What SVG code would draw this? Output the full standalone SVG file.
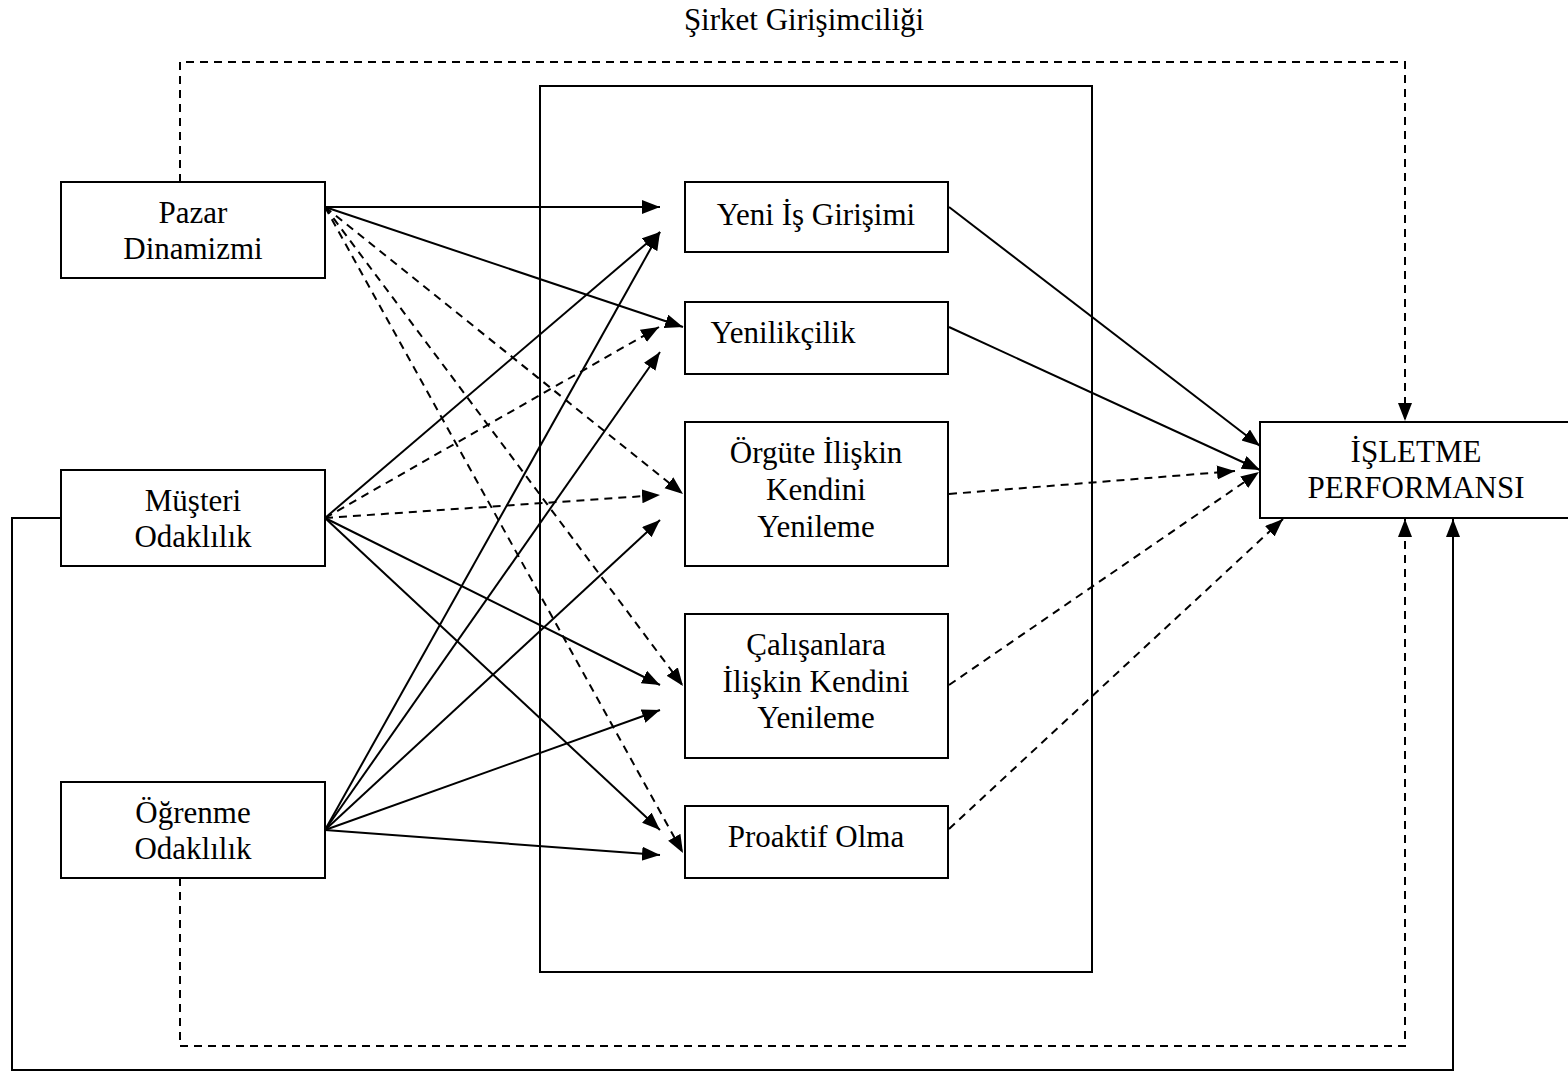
<svg xmlns="http://www.w3.org/2000/svg" width="1568" height="1071" viewBox="0 0 1568 1071">
<style>
.box{fill:#fff;stroke:#000;stroke-width:2}
.frame{fill:none;stroke:#000;stroke-width:2}
.t{font-family:'Liberation Serif','DejaVu Serif',serif;font-size:31px;fill:#000;text-anchor:middle}
.s{fill:none;stroke:#000;stroke-width:2}
.d{fill:none;stroke:#000;stroke-width:2;stroke-dasharray:8 6}
</style>
<defs>
<marker id="ah" markerUnits="userSpaceOnUse" markerWidth="19" markerHeight="15" refX="18" refY="7" orient="auto">
<path d="M0,0 L18,7 L0,14 z" fill="#000"/>
</marker>
</defs>
<rect width="1568" height="1071" fill="#fff"/>
<text class="t" x="804" y="30" font-family="Liberation Serif, DejaVu Serif, serif">Şirket Girişimciliği</text>
<g id="frame"><rect class="frame" x="540" y="86" width="552" height="886"/></g>
<g id="connectors">
<path class="d" d="M180,182 V62 H1405 V421" marker-end="url(#ah)"/>
<path class="d" d="M180,878 V1046 H1405 V519" marker-end="url(#ah)"/>
<path class="s" d="M61,518 H12 V1070 H1453 V519" marker-end="url(#ah)"/>
<line class="s" x1="325" y1="207" x2="660" y2="207" marker-end="url(#ah)"/>
<line class="s" x1="325" y1="207" x2="683" y2="327" marker-end="url(#ah)"/>
<line class="d" x1="325" y1="207" x2="683" y2="494" marker-end="url(#ah)"/>
<line class="d" x1="325" y1="207" x2="683" y2="686" marker-end="url(#ah)"/>
<line class="d" x1="325" y1="207" x2="683" y2="853" marker-end="url(#ah)"/>
<line class="s" x1="325" y1="518" x2="660" y2="232" marker-end="url(#ah)"/>
<line class="d" x1="325" y1="518" x2="659" y2="327" marker-end="url(#ah)"/>
<line class="d" x1="325" y1="518" x2="660" y2="495" marker-end="url(#ah)"/>
<line class="s" x1="325" y1="518" x2="660" y2="685" marker-end="url(#ah)"/>
<line class="s" x1="325" y1="518" x2="660" y2="830" marker-end="url(#ah)"/>
<line class="s" x1="325" y1="830" x2="660" y2="232" marker-end="url(#ah)"/>
<line class="s" x1="325" y1="830" x2="660" y2="352" marker-end="url(#ah)"/>
<line class="s" x1="325" y1="830" x2="660" y2="520" marker-end="url(#ah)"/>
<line class="s" x1="325" y1="830" x2="660" y2="710" marker-end="url(#ah)"/>
<line class="s" x1="325" y1="830" x2="660" y2="855" marker-end="url(#ah)"/>
<line class="s" x1="949" y1="207" x2="1260" y2="446" marker-end="url(#ah)"/>
<line class="s" x1="949" y1="327" x2="1260" y2="470" marker-end="url(#ah)"/>
<line class="d" x1="949" y1="494" x2="1235" y2="471" marker-end="url(#ah)"/>
<line class="d" x1="949" y1="685" x2="1259" y2="472" marker-end="url(#ah)"/>
<line class="d" x1="949" y1="829" x2="1283" y2="519" marker-end="url(#ah)"/>
</g>
<g id="pazar"><rect class="box" x="61" y="182" width="264" height="96"/><text class="t" x="193" y="223">Pazar</text><text class="t" x="193" y="259">Dinamizmi</text></g>
<g id="musteri"><rect class="box" x="61" y="470" width="264" height="96"/><text class="t" x="193" y="511">Müşteri</text><text class="t" x="193" y="547">Odaklılık</text></g>
<g id="ogrenme"><rect class="box" x="61" y="782" width="264" height="96"/><text class="t" x="193" y="823">Öğrenme</text><text class="t" x="193" y="859">Odaklılık</text></g>
<g id="yeni"><rect class="box" x="685" y="182" width="263" height="70"/><text class="t" x="816" y="225">Yeni İş Girişimi</text></g>
<g id="yenilikcilik"><rect class="box" x="685" y="302" width="263" height="72"/><text class="t" x="783" y="343">Yenilikçilik</text></g>
<g id="orgute"><rect class="box" x="685" y="422" width="263" height="144"/><text class="t" x="816" y="463">Örgüte İlişkin</text><text class="t" x="816" y="500">Kendini</text><text class="t" x="816" y="537">Yenileme</text></g>
<g id="calisanlara"><rect class="box" x="685" y="614" width="263" height="144"/><text class="t" x="816" y="655">Çalışanlara</text><text class="t" x="816" y="692">İlişkin Kendini</text><text class="t" x="816" y="728">Yenileme</text></g>
<g id="proaktif"><rect class="box" x="685" y="806" width="263" height="72"/><text class="t" x="816" y="847">Proaktif Olma</text></g>
<g id="performans"><rect class="box" x="1260" y="422" width="320" height="96"/><text class="t" x="1416" y="462">İŞLETME</text><text class="t" x="1416" y="498">PERFORMANSI</text></g>
</svg>
